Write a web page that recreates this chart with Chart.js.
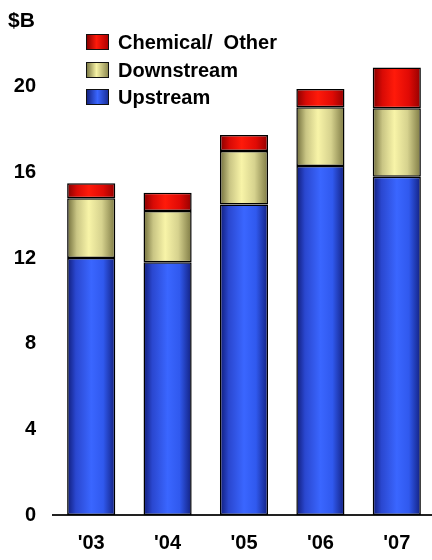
<!DOCTYPE html>
<html>
<head>
<meta charset="utf-8">
<script src="https://cdn.jsdelivr.net/npm/chart.js@4/dist/chart.umd.min.js"></script>
<style>
  html, body { margin: 0; padding: 0; background: #fff; overflow: hidden; }
  #wrap { position: relative; width: 432px; height: 560px; overflow: hidden; }
  canvas { position: absolute; left: 0; top: 0; }
  .lbl { position: absolute; font: bold 20px "Liberation Sans", Arial, sans-serif; color: #000; white-space: pre; }
  .row { position: absolute; left: 86px; height: 18px; display: flex; align-items: center; }
  .box { width: 21px; height: 14px; border: 1px solid #111; margin-right: 9px; }
  .row span { font: bold 20px "Liberation Sans", Arial, sans-serif; color: #000; white-space: pre; }
</style>
</head>
<body>
<div id="wrap">
  <canvas id="c" width="440" height="560"></canvas>
  <div class="lbl" style="left:8px; top:8px; font-size:21px;">$B</div>
  <div class="row" style="top:33px;"><div class="box" style="background:linear-gradient(90deg,#8a0000,#ff1a0a 45%,#b00000);"></div><span>Chemical/  Other</span></div>
  <div class="row" style="top:61px;"><div class="box" style="background:linear-gradient(90deg,#7d7a45,#f7f3a6 45%,#8f8b52);"></div><span>Downstream</span></div>
  <div class="row" style="top:88px;"><div class="box" style="background:linear-gradient(90deg,#142384,#3a66ff 50%,#1a2f9a);"></div><span>Upstream</span></div>
</div>
<script>
// values in $B
const years = ["'03", "'04", "'05", "'06", "'07"];
const upstream = [12.0, 11.8, 14.5, 16.3, 15.8];
const downstream = [2.8, 2.4, 2.5, 2.75, 3.2];
const chemicalOther = [0.7, 0.85, 0.75, 0.85, 1.9];
const yTicks = [0, 4, 8, 12, 16, 20];

const BAR_PCT = 0.63;

// horizontal "cylinder" shading for each segment
const blueStops = [[0, "#101c78"], [0.18, "#2a47cf"], [0.5, "#3a66ff"], [0.75, "#3059ee"], [1, "#122080"]];
const yellowStops = [[0, "#6f6c3a"], [0.2, "#c9c584"], [0.45, "#f8f4a8"], [0.72, "#d6d28e"], [1, "#7d7943"]];
const redStops = [[0, "#850000"], [0.2, "#d80a05"], [0.45, "#ff1a0a"], [0.75, "#e00a05"], [1, "#930000"]];

function shade(stops) {
  return (ctx) => {
    const chart = ctx.chart;
    const x = chart.scales.x;
    if (ctx.type !== "data" || !x || !chart.chartArea) return stops[2][1];
    const cx = x.getPixelForValue(ctx.dataIndex);
    const w = x.width / years.length * BAR_PCT;
    const g = chart.ctx.createLinearGradient(cx - w / 2, 0, cx + w / 2, 0);
    stops.forEach(s => g.addColorStop(s[0], s[1]));
    return g;
  };
}

const font = { family: "'Liberation Sans', Arial, sans-serif", size: 20, weight: "bold" };

function series(label, data, stops) {
  return {
    label,
    data,
    backgroundColor: shade(stops),
    borderColor: "#000",
    borderWidth: 1.5,
    borderSkipped: false,
    barPercentage: BAR_PCT,
    categoryPercentage: 1
  };
}

new Chart(document.getElementById("c"), {
  type: "bar",
  data: {
    labels: years,
    datasets: [
      series("Upstream", upstream, blueStops),
      series("Downstream", downstream, yellowStops),
      series("Chemical/ Other", chemicalOther, redStops)
    ]
  },
  options: {
    responsive: false,
    animation: false,
    layout: { padding: { top: 44, right: 5, bottom: 0, left: 0 } },
    plugins: { legend: { display: false }, tooltip: { enabled: false } },
    scales: {
      x: {
        stacked: true,
        grid: { display: false, drawTicks: false },
        border: { display: true, color: "#222", width: 2 },
        ticks: { color: "#000", font, padding: 16 },
        afterFit: (s) => { s.height = 45; }
      },
      y: {
        stacked: true,
        min: 0,
        max: 22,
        grid: { display: false, drawTicks: false },
        border: { display: false },
        ticks: { color: "#000", font, padding: 17, stepSize: 4 },
        afterBuildTicks: (s) => { s.ticks = yTicks.map(v => ({ value: v })); },
        afterFit: (s) => { s.width = 53; }
      }
    }
  }
});
</script>
</body>
</html>
